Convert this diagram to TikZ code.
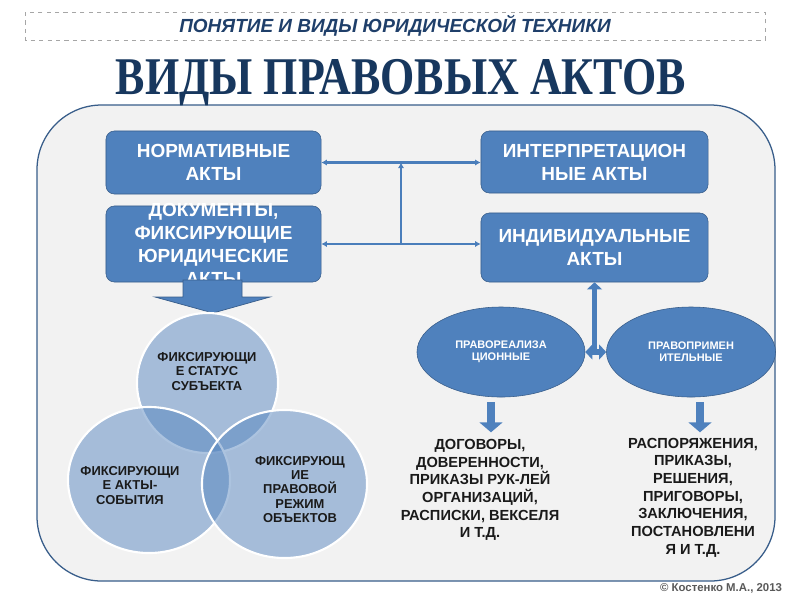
\documentclass[tikz,border=0pt]{standalone}
\usepackage{fontspec}
\usepackage{graphicx}
\setmainfont{Liberation Sans}
\newfontfamily\serifbold{Liberation Serif}
\usetikzlibrary{arrows.meta,shapes.geometric,calc}
\definecolor{lblue}{HTML}{4F81BD}
\definecolor{dblue}{HTML}{385D8A}
\definecolor{cblue}{HTML}{4A7EBB}
\definecolor{navy}{HTML}{17375E}
\definecolor{snavy}{HTML}{1F3F6A}
\definecolor{lgray}{HTML}{F2F2F2}
\definecolor{dgray}{HTML}{A6A6A6}
\definecolor{dtext}{HTML}{1A1A1A}
\definecolor{ftext}{HTML}{595959}
\tikzset{>={Latex[length=4pt,width=4.5pt]}}
\tikzset{
  actbox/.style={draw=dblue, fill=lblue, rounded corners=6pt, inner sep=0pt,
    align=center, text=white, font=\fontsize{13.5}{16.3}\selectfont\bfseries},
  boxfont/.style={align=center, text=white, font=\fontsize{13.5}{16.3}\selectfont\bfseries},
  actell/.style={ellipse, draw=dblue, fill=lblue, inner sep=0pt, align=center,
    text=white, font=\fontsize{7.8}{8.6}\selectfont\bfseries},
  venn/.style={ellipse, draw=white, line width=1.5pt, fill=lblue, fill opacity=0.47,
    draw opacity=1, inner sep=0pt},
  venntext/.style={align=center, text=dtext, font=\fontsize{9.2}{10}\selectfont\bfseries},
  listtext/.style={align=center, text=dtext, font=\fontsize{10.4}{12.6}\selectfont\bfseries},
  link/.style={draw=cblue, line width=1.8pt},
  fat/.style={draw=cblue, line width=4pt, arrows={-Triangle[length=5pt,width=10.5pt]}},
  drop/.style={draw=lblue, line width=5.5pt, -{Triangle[length=7pt,width=16pt]}}
}
\begin{document}
\begin{tikzpicture}[x=0.025cm, y=-0.025cm]
  \useasboundingbox (0,0) rectangle (800,600);
  \fill[white] (0,0) rectangle (800,600);
  \draw[draw=dblue, fill=lgray, line width=0.9pt, rounded corners=46pt] (37,105) rectangle (775,581);
  \draw[dgray, dashed, line width=0.5pt] (25,12) rectangle (765,40);
  \node[text=snavy, font=\fontsize{13.5}{16}\selectfont\bfseries\itshape] (sub) at (395,26) {ПОНЯТИЕ И ВИДЫ ЮРИДИЧЕСКОЙ ТЕХНИКИ};
  \node[anchor=base, text=navy, font=\serifbold\bfseries\fontsize{37.7}{40}\selectfont] (title) at (401,94) {\scalebox{0.83}[1]{ВИДЫ ПРАВОВЫХ АКТОВ}};

  \node[actbox, minimum width=5.375cm, minimum height=1.575cm] (norm) at (213.5,162.5) {НОРМАТИВНЫЕ\\АКТЫ};
  \node[actbox, minimum width=5.375cm, minimum height=1.9cm,
    label={[boxfont]center:ДОКУМЕНТЫ,\\ФИКСИРУЮЩИЕ\\ЮРИДИЧЕСКИЕ\\АКТЫ}] (docs) at (213.5,244) {};
  \node[actbox, minimum width=5.675cm, minimum height=1.55cm] (interp) at (594.5,162) {ИНТЕРПРЕТАЦИОН\\НЫЕ АКТЫ};
  \node[actbox, minimum width=5.675cm, minimum height=1.725cm] (indiv) at (594.5,247.5) {ИНДИВИДУАЛЬНЫЕ\\АКТЫ};

  \draw[link, <->] (norm.east) -- (norm.east -| interp.west);
  \draw[link, <->] (docs.east) -- (docs.east -| indiv.west);
  \coordinate (mid) at ($(docs.east)!0.5!(docs.east -| indiv.west)$);
  \draw[link, ->] (mid) -- (mid |- norm.east);

  \fill[lblue, draw=dblue, line width=0.5pt] (183,280) -- (242,280) -- (242,297) -- (270,297)
    -- (213,313) -- (155,297) -- (183,297) -- cycle;

  \node[venn, minimum width=3.525cm, minimum height=3.5cm] (vs) at (207.5,383) {};
  \node[venn, minimum width=4.05cm, minimum height=3.65cm] (ve) at (149,480) {};
  \node[venn, minimum width=4.125cm, minimum height=3.7cm] (vo) at (284.5,484) {};
  \node[venntext] (ts) at (207,371.5) {ФИКСИРУЮЩИ\\Е СТАТУС\\СУБЪЕКТА};
  \node[venntext] (te) at (130,485.5) {ФИКСИРУЮЩИ\\Е АКТЫ-\\СОБЫТИЯ};
  \node[venntext] (to) at (300,489.5) {ФИКСИРУЮЩ\\ИЕ\\ПРАВОВОЙ\\РЕЖИМ\\ОБЪЕКТОВ};

  \node[actell, minimum width=4.2cm, minimum height=2.25cm] (realiz) at (501,352) {ПРАВОРЕАЛИЗА\\ЦИОННЫЕ};
  \node[actell, minimum width=4.225cm, minimum height=2.25cm] (applic) at (691,352) {ПРАВОПРИМЕН\\ИТЕЛЬНЫЕ};
  \coordinate (hub) at (indiv.south |- realiz.east);
  \draw[fat] (hub) -- (indiv.south);
  \draw[fat, arrows={Triangle[length=5pt,width=10.5pt]-Triangle[length=5pt,width=10.5pt]}] (realiz.east) -- (applic.west);

  \node[listtext] (rlist) at (480,490) {ДОГОВОРЫ,\\ДОВЕРЕННОСТИ,\\ПРИКАЗЫ РУК-ЛЕЙ\\ОРГАНИЗАЦИЙ,\\РАСПИСКИ, ВЕКСЕЛЯ\\И Т.Д.};
  \node[listtext] (alist) at (693,497.5) {РАСПОРЯЖЕНИЯ,\\ПРИКАЗЫ,\\РЕШЕНИЯ,\\ПРИГОВОРЫ,\\ЗАКЛЮЧЕНИЯ,\\ПОСТАНОВЛЕНИ\\Я И Т.Д.};
  \draw[drop] ([xshift=-0.25cm, yshift=-0.125cm]realiz.south) -- ([xshift=-0.25cm, yshift=-0.875cm]realiz.south);
  \draw[drop] ([xshift=0.225cm, yshift=-0.125cm]applic.south) -- ([xshift=0.225cm, yshift=-0.875cm]applic.south);

  \node[text=ftext, font=\fontsize{8.1}{10}\selectfont\bfseries] (copy) at (721,588) {© Костенко М.А., 2013};
\end{tikzpicture}
\end{document}
